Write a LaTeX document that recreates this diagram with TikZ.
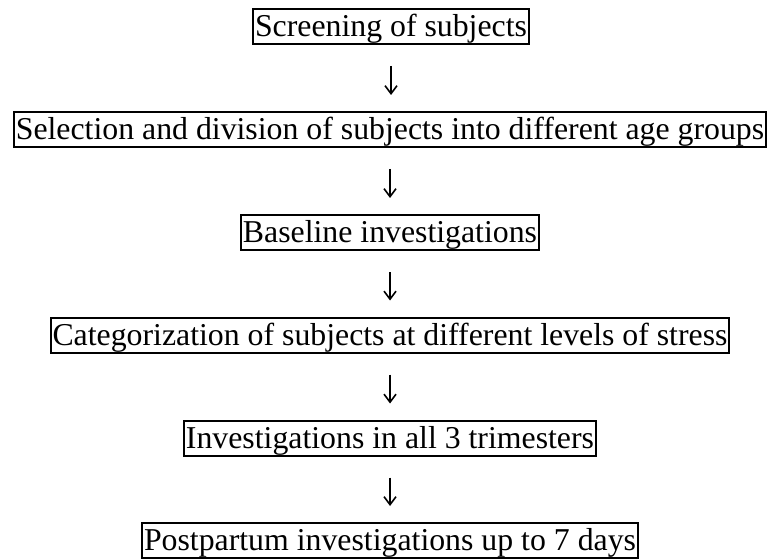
\documentclass[tikz,border=0pt]{standalone}
\usepackage{fontspec}
\setmainfont{Liberation Serif}
\usetikzlibrary{arrows.meta}
\begin{document}
\begin{tikzpicture}[x=1pt,y=-1pt,
  stepbox/.style={draw=black,line width=2pt,inner xsep=1.8pt,inner ysep=0.3pt,
    font=\fontsize{31.8}{38}\selectfont,text height=27.6pt,text depth=6.8pt},
  flowarrow/.style={line width=1.6pt,shorten <=21pt,shorten >=16pt,
    -{Straight Barb[length=8pt,width=12pt,line width=1.6pt]}}]
\useasboundingbox (0,0) rectangle (769,559);
\node[stepbox] (b1) at (391,26.5) {Screening of subjects};
\node[stepbox] (b2) at (390,129.5) {Selection and division of subjects into different age groups};
\node[stepbox] (b3) at (390,232.5) {Baseline investigations};
\node[stepbox] (b4) at (390,335) {Categorization of subjects at different levels of stress};
\node[stepbox] (b5) at (390,438) {Investigations in all 3 trimesters};
\node[stepbox] (b6) at (390,540.5) {Postpartum investigations up to 7 days};
\draw[flowarrow] (b1.south) -- (b1.south |- b2.north);
\draw[flowarrow] (b3.north |- b2.south) -- (b3.north);
\draw[flowarrow] (b4.north |- b3.south) -- (b4.north);
\draw[flowarrow] (b5.north |- b4.south) -- (b5.north);
\draw[flowarrow] (b6.north |- b5.south) -- (b6.north);
\end{tikzpicture}
\end{document}
